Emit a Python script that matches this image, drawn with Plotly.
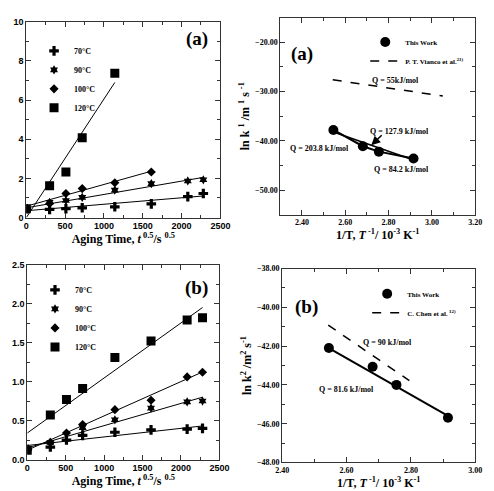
import plotly.graph_objects as go

# ---------------- data ----------------
aging_t = [0, 300, 510, 720, 1140, 1610, 2080, 2280]
temps = ["70°C", "90°C", "100°C", "120°C"]
symbols = ["cross", "hexagram", "diamond", "square"]
msizes = [8, 7, 7, 9]

# (a) top-left
a_70 = [0.45, 0.42, 0.45, 0.50, 0.55, 0.70, 1.07, 1.23]
a_90 = [None, 0.78, 0.87, 1.03, 1.40, 1.73, 1.87, 1.93]
a_100 = [None, 0.72, 1.23, 1.48, 1.78, 2.33, None, None]
a_120 = [0.45, 1.63, 2.32, 4.07, 7.37, None, None, None]
a_fit_intercept = [0.35, 0.50, 0.58, 0.0]
a_fit_slope = [0.00033, 0.00068, 0.00111, 0.00605]
a_fit_xmax = [2280, 2280, 1610, 1140]

# (b) bottom-left
b_70 = [0.13, 0.16, 0.25, 0.31, 0.35, 0.38, 0.39, 0.40]
b_90 = [None, 0.22, None, 0.41, 0.51, 0.66, 0.74, 0.75]
b_100 = [None, 0.22, 0.34, 0.45, 0.64, 0.76, 1.06, 1.12]
b_120 = [0.12, 0.57, 0.77, 0.91, 1.31, 1.52, 1.79, 1.82]
b_fit_intercept = [0.18, 0.15, 0.12, 0.34]
b_fit_slope = [0.000110, 0.000285, 0.000440, 0.000706]
b_fit_xmax = [2280, 2280, 2280, 2280]

# Arrhenius plots
inv_T = [2.545, 2.681, 2.755, 2.915]
a_lnk = [-37.8, -41.1, -42.2, -43.6]
a_overall_fit = [-38.2, -43.9]
a_ref_x = [2.542, 3.05]
a_ref_y = [-27.6, -30.9]

b_lnk = [-42.1, -43.06, -44.0, -45.69]
b_fit = [-42.1, -45.6]
b_ref_x = [2.543, 2.795]
b_ref_y = [-40.92, -43.78]

W, H = 494, 491
SERIF = "Liberation Serif"
SANS = "Liberation Sans"

fig = go.Figure()

def add_growth(xa, ya, legend, series, inter, slope, xmax):
    for i, ys in enumerate(series):
        fig.add_trace(go.Scatter(
            x=aging_t, y=ys, mode="markers", name=temps[i],
            marker=dict(symbol=symbols[i], size=msizes[i], color="black",
                        line=dict(width=0)),
            xaxis=xa, yaxis=ya, legend=legend))
        fig.add_trace(go.Scatter(
            x=[0, xmax[i]], y=[inter[i], inter[i] + slope[i] * xmax[i]],
            mode="lines", line=dict(color="black", width=1),
            showlegend=False, xaxis=xa, yaxis=ya))

add_growth("x", "y", "legend", [a_70, a_90, a_100, a_120],
           a_fit_intercept, a_fit_slope, a_fit_xmax)
add_growth("x3", "y3", "legend3", [b_70, b_90, b_100, b_120],
           b_fit_intercept, b_fit_slope, b_fit_xmax)

# top-right
fig.add_trace(go.Scatter(x=inv_T, y=a_lnk, mode="markers", name="This Work",
                         marker=dict(symbol="circle", size=10, color="black"),
                         xaxis="x2", yaxis="y2", legend="legend2"))
fig.add_trace(go.Scatter(x=a_ref_x, y=a_ref_y, mode="lines",
                         name="P. T. Vianco et al.<sup>21)</sup>",
                         line=dict(color="black", width=1.5, dash="dash"),
                         xaxis="x2", yaxis="y2", legend="legend2"))
fig.add_trace(go.Scatter(x=inv_T, y=a_lnk, mode="lines",
                         line=dict(color="black", width=2), showlegend=False,
                         xaxis="x2", yaxis="y2"))
fig.add_trace(go.Scatter(x=[inv_T[0], inv_T[-1]], y=a_overall_fit, mode="lines",
                         line=dict(color="black", width=1.5), showlegend=False,
                         xaxis="x2", yaxis="y2"))

# bottom-right
fig.add_trace(go.Scatter(x=inv_T, y=b_lnk, mode="markers", name="This Work",
                         marker=dict(symbol="circle", size=10, color="black"),
                         xaxis="x4", yaxis="y4", legend="legend4"))
fig.add_trace(go.Scatter(x=b_ref_x, y=b_ref_y, mode="lines",
                         name="C. Chen et al.<sup> 12)</sup>",
                         line=dict(color="black", width=1.5, dash="dash"),
                         xaxis="x4", yaxis="y4", legend="legend4"))
fig.add_trace(go.Scatter(x=[inv_T[0], inv_T[-1]], y=b_fit, mode="lines",
                         line=dict(color="black", width=2), showlegend=False,
                         xaxis="x4", yaxis="y4"))

def px(x0, x1):
    return [x0 / W, x1 / W]

def py(top, bottom):
    return [(H - bottom) / H, (H - top) / H]

def axis(domain, anchor, rng, dtick, minor, fmt, font, fsize, title, tick0=None):
    d = dict(domain=domain, anchor=anchor, range=rng, dtick=dtick,
             ticks="inside", ticklen=5, tickwidth=1, tickcolor="#333",
             showline=True, linecolor="#333", linewidth=1, mirror="ticks",
             showgrid=False, zeroline=False, tickformat=fmt,
             tickfont=dict(family=font, size=fsize, color="black", weight="bold"),
             minor=dict(ticks="inside", ticklen=3, dtick=minor, tickcolor="#333",
                        showgrid=False),
             title=dict(text=title, font=dict(family=SERIF, size=12, color="black",
                                              weight="bold"), standoff=2))
    if tick0 is not None:
        d["tick0"] = tick0
        d["minor"]["tick0"] = tick0
    return d

xt_left = "Aging Time, <i>t</i><sup> 0.5</sup>/s <sup>0.5</sup>"
xt_right = "1/T, <i>T</i><sup> -1</sup>/ 10<sup>-3</sup> K<sup>-1</sup>"

fig.update_layout(
    width=W, height=H, margin=dict(l=0, r=0, t=0, b=0),
    paper_bgcolor="white", plot_bgcolor="white",
    xaxis=axis(px(20, 221), "y", [0, 2500], 500, 250, "d", SANS, 9, xt_left),
    yaxis=axis(py(17, 217), "x", [0, 10], 2, 1, "d", SANS, 9, ""),
    xaxis2=axis(px(283, 485), "y2", [2.30, 3.20], 0.2, 0.1, ".2f", SERIF, 8, xt_right, 2.4),
    yaxis2=axis(py(13, 214), "x2", [-55, -15], 10, 5, ".2f", SERIF, 8,
                "ln k <sup>1</sup> /m <sup>1</sup> s <sup>-1</sup>", -20),
    xaxis3=axis(px(21, 220), "y3", [0, 2500], 500, 250, "d", SANS, 9, xt_left),
    yaxis3=axis(py(265, 464), "x3", [0, 2.5], 0.5, 0.25, ".1f", SANS, 9, ""),
    xaxis4=axis(px(285, 485), "y4", [2.40, 3.00], 0.2, 0.1, ".2f", SERIF, 8, xt_right, 2.4),
    yaxis4=axis(py(269, 467), "x4", [-48, -38], 2, 1, ".2f", SERIF, 8,
                "ln k<sup>2</sup> /m<sup>2</sup> s<sup>-1</sup>", -48),
)

legfont = dict(family=SERIF, size=8, color="black", weight="bold")
legfont_r = dict(family=SERIF, size=7, color="black", weight="bold")
fig.update_layout(
    legend=dict(x=28 / W, y=(H - 32) / H, xanchor="left", yanchor="top",
                bgcolor="rgba(0,0,0,0)", font=legfont, tracegroupgap=0),
    legend3=dict(x=29 / W, y=(H - 276) / H, xanchor="left", yanchor="top",
                 bgcolor="rgba(0,0,0,0)", font=legfont, tracegroupgap=0),
    legend2=dict(x=371 / W, y=(H - 23) / H, xanchor="left", yanchor="top",
                 bgcolor="rgba(0,0,0,0)", font=legfont_r, tracegroupgap=0),
    legend4=dict(x=373 / W, y=(H - 280) / H, xanchor="left", yanchor="top",
                 bgcolor="rgba(0,0,0,0)", font=legfont_r, tracegroupgap=0),
)

annfont = dict(family=SERIF, size=8, color="black", weight="bold")
bigfont = dict(family=SERIF, size=19, color="black", weight="bold")
anns = [
    dict(x=2200, y=9.1, xref="x", yref="y", text="(a)", font=bigfont),
    dict(x=2200, y=2.2, xref="x3", yref="y3", text="(b)", font=bigfont),
    dict(x=2.40, y=-22.3, xref="x2", yref="y2", text="(a)", font=bigfont),
    dict(x=2.475, y=-40.0, xref="x4", yref="y4", text="(b)", font=bigfont),
    dict(x=2.83, y=-27.8, xref="x2", yref="y2", text="Q = 55kJ/mol", font=annfont),
    dict(x=2.85, y=-38.2, xref="x2", yref="y2", text="Q = 127.9 kJ/mol", font=annfont),
    dict(x=2.48, y=-41.6, xref="x2", yref="y2", text="Q = 203.8 kJ/mol", font=annfont),
    dict(x=2.86, y=-45.9, xref="x2", yref="y2", text="Q = 84.2 kJ/mol", font=annfont),
    dict(x=2.726, y=-41.8, xref="x4", yref="y4", text="Q = 90 kJ/mol", font=annfont),
    dict(x=2.60, y=-44.24, xref="x4", yref="y4", text="Q = 81.6 kJ/mol", font=annfont),
]
for a in anns:
    a.update(showarrow=False)
fig.update_layout(annotations=anns + [
    dict(x=2.72, y=-40.9, xref="x2", yref="y2", ax=2.775, ay=-38.6,
         axref="x2", ayref="y2", showarrow=True, arrowhead=2, arrowsize=1.2,
         arrowwidth=1.5, arrowcolor="black", text=""),
])

fig.write_html("out.html")
